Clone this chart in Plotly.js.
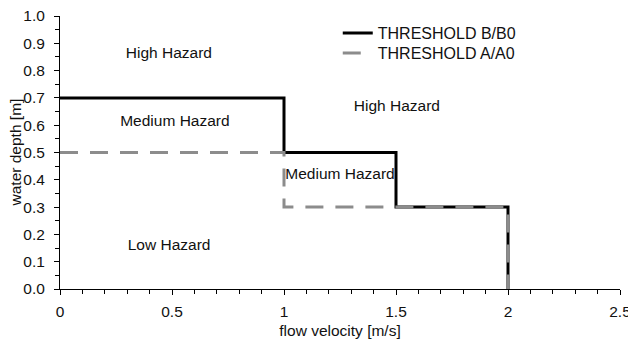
<!DOCTYPE html>
<html>
<head>
<meta charset="utf-8">
<script src="https://cdn.plot.ly/plotly-3.0.1.min.js"></script>
<style>
  html, body { margin: 0; padding: 0; background: #fff; }
  #chart { width: 628px; height: 346px; }
</style>
</head>
<body>
<div id="chart"></div>
<script>
// Hazard thresholds: water depth limit as a step function of flow velocity
const velocityB = [0, 1, 1, 1.5, 1.5, 2, 2];
const depthB    = [0.7, 0.7, 0.5, 0.5, 0.3, 0.3, 0];
const velocityA = [0, 1, 1, 2, 2];
const depthA    = [0.5, 0.5, 0.3, 0.3, 0];

// Hazard zone labels (centred)
const zoneLabels = ['High Hazard', 'Medium Hazard', 'Low Hazard', 'High Hazard'];
const zoneX      = [0.486, 0.513, 0.487, 1.504];
const zoneY      = [0.861, 0.613, 0.158, 0.667];
// Left-aligned label in the middle step
const midLabel   = ['Medium Hazard'];
const midX       = [1.006];
const midY       = [0.418];

const font = 'Liberation Sans, Arial, sans-serif';
const ink = '#111';

const legendStyle = (y) => ({
  x: 0.496, y: y, xanchor: 'left', yanchor: 'top',
  bgcolor: 'rgba(0,0,0,0)', font: { family: font, size: 16, color: ink },
  itemwidth: 30
});

const traces = [
  {
    x: zoneX, y: zoneY, text: zoneLabels, mode: 'text', type: 'scatter',
    textposition: 'middle center', showlegend: false, hoverinfo: 'skip',
    textfont: { family: font, size: 15.5, color: ink }
  },
  {
    x: midX, y: midY, text: midLabel, mode: 'text', type: 'scatter',
    textposition: 'middle right', showlegend: false, hoverinfo: 'skip',
    textfont: { family: font, size: 15.5, color: ink }
  },
  {
    x: velocityB, y: depthB, mode: 'lines', type: 'scatter',
    name: 'THRESHOLD B/B0', legend: 'legend',
    line: { color: '#000', width: 3 }
  },
  {
    x: velocityA, y: depthA, mode: 'lines', type: 'scatter',
    name: 'THRESHOLD A/A0', legend: 'legend2',
    line: { color: '#8c8c8c', width: 3, dash: '18px,12px' }
  }
];

const layout = {
  width: 628, height: 346,
  margin: { l: 60, r: 8, t: 16, b: 57 },
  paper_bgcolor: '#fff', plot_bgcolor: '#fff',
  font: { family: font, size: 15, color: ink },
  showlegend: true,
  legend: legendStyle(1.0),
  legend2: legendStyle(0.9267),
  xaxis: {
    range: [0, 2.5], dtick: 0.5, tick0: 0,
    showgrid: false, zeroline: false,
    showline: true, linecolor: '#000', linewidth: 1,
    ticks: 'outside', ticklen: 5, tickcolor: '#000',
    ticklabelstandoff: 3, ticklabeloverflow: 'allow',
    tickfont: { family: font, size: 15.5, color: ink },
    minor: { dtick: 0.1, ticks: 'outside', ticklen: 4, tickcolor: '#000', showgrid: false },
    title: { text: 'flow velocity [m/s]', font: { family: font, size: 15.5, color: ink }, standoff: 6 }
  },
  yaxis: {
    range: [0, 1.0], dtick: 0.1, tick0: 0, tickformat: '.1f',
    showgrid: false, zeroline: false,
    showline: true, linecolor: '#000', linewidth: 1,
    ticks: 'outside', ticklen: 5, tickcolor: '#000',
    ticklabelstandoff: 6,
    tickfont: { family: font, size: 15.5, color: ink },
    minor: { dtick: 0.05, ticks: 'outside', ticklen: 4, tickcolor: '#000', showgrid: false }
  },
  // y-axis title placed just left of the tick labels
  annotations: [{
    text: 'water depth [m]', xref: 'paper', yref: 'paper',
    x: -0.0786, y: 0.5, xanchor: 'center', yanchor: 'middle',
    textangle: -90, showarrow: false,
    font: { family: font, size: 15.5, color: ink }
  }]
};

Plotly.newPlot('chart', traces, layout, { displayModeBar: false, staticPlot: true });
</script>
</body>
</html>
